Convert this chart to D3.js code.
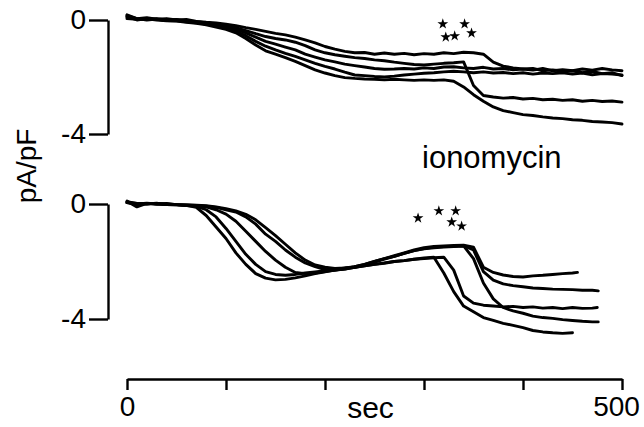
<!DOCTYPE html>
<html><head><meta charset="utf-8">
<script src="https://cdn.jsdelivr.net/npm/d3@7"></script>
<style>html,body{margin:0;padding:0;background:#fff;} svg{display:block;}</style>
</head><body><svg id="chart" width="644" height="427"></svg>
<script>
// ---------- data (pA/pF, sampled every 10 s; last value of a trace sits at its end time) ----------
const sampleStep = 10;
const xTickValues = [0, 100, 200, 300, 400, 500];
const xTickLabels = {0: "0", 500: "500"};
const yTickValues = [0, -4];

// top panel: 5 cells, 0 to 500 s
const topEnd = [500, 500, 500, 500, 500];
const topA = [0.15,0.05,0.08,0.03,0.05,0.0,0.02,-0.05,-0.08,-0.1,-0.15,-0.2,-0.27,-0.33,-0.4,-0.47,-0.52,-0.6,-0.7,-0.8,-0.93,-1.02,-1.1,-1.15,-1.14,-1.2,-1.16,-1.2,-1.17,-1.22,-1.18,-1.2,-1.15,-1.18,-1.13,-1.15,-1.2,-1.48,-1.62,-1.68,-1.72,-1.7,-1.78,-1.75,-1.8,-1.78,-1.85,-1.8,-1.88,-1.85,-1.95];
const topB = [0.1,0.05,0.02,0.05,0.0,0.02,-0.03,-0.05,-0.1,-0.15,-0.2,-0.27,-0.37,-0.48,-0.58,-0.65,-0.7,-0.78,-0.9,-1.05,-1.15,-1.22,-1.27,-1.32,-1.35,-1.4,-1.43,-1.48,-1.52,-1.56,-1.58,-1.55,-1.52,-1.5,-1.47,-2.3,-2.65,-2.7,-2.74,-2.72,-2.77,-2.75,-2.8,-2.78,-2.82,-2.8,-2.85,-2.82,-2.86,-2.84,-2.88];
const topC = [0.12,0.0,0.05,0.02,-0.02,0.0,-0.05,-0.08,-0.12,-0.18,-0.25,-0.33,-0.45,-0.6,-0.75,-0.85,-0.95,-1.05,-1.2,-1.3,-1.4,-1.47,-1.55,-1.6,-1.65,-1.7,-1.73,-1.72,-1.7,-1.72,-1.68,-1.7,-1.65,-1.64,-1.68,-1.7,-1.66,-1.72,-1.7,-1.75,-1.72,-1.76,-1.7,-1.78,-1.74,-1.78,-1.72,-1.76,-1.7,-1.75,-1.78];
const topD = [0.18,0.05,0.0,0.03,-0.02,-0.03,-0.06,-0.1,-0.14,-0.2,-0.3,-0.4,-0.55,-0.75,-0.92,-1.05,-1.17,-1.28,-1.4,-1.52,-1.63,-1.72,-1.83,-1.93,-1.95,-1.98,-2.0,-1.97,-1.93,-1.9,-1.87,-1.85,-1.82,-1.8,-1.82,-1.85,-1.82,-1.86,-1.84,-1.88,-1.85,-1.9,-1.86,-1.88,-1.85,-1.9,-1.86,-1.92,-1.88,-1.9,-1.93];
const topE = [0.05,0.02,0.04,0.0,-0.03,-0.04,-0.08,-0.12,-0.17,-0.25,-0.33,-0.45,-0.65,-0.88,-1.08,-1.2,-1.32,-1.45,-1.6,-1.75,-1.86,-1.95,-2.02,-2.05,-2.07,-2.08,-2.1,-2.08,-2.1,-2.12,-2.1,-2.12,-2.1,-2.15,-2.35,-2.62,-2.85,-3.05,-3.18,-3.25,-3.32,-3.35,-3.4,-3.44,-3.46,-3.5,-3.52,-3.56,-3.58,-3.6,-3.65];

// bottom panel: 5 cells, traces end between 450 and 476 s
const bottomEnd = [450, 475, 476, 476, 455];
const botP1 = [0.1,-0.1,0.02,0.0,-0.02,-0.03,-0.05,-0.12,-0.4,-0.8,-1.2,-1.7,-2.1,-2.42,-2.58,-2.64,-2.62,-2.57,-2.5,-2.42,-2.36,-2.3,-2.26,-2.2,-2.15,-2.1,-2.05,-2.0,-1.97,-1.92,-1.88,-1.85,-2.4,-3.05,-3.55,-3.75,-3.95,-4.05,-4.15,-4.22,-4.3,-4.4,-4.45,-4.48,-4.5,-4.48];
const botP2 = [0.05,0.02,0.0,0.03,-0.02,-0.03,-0.05,-0.08,-0.2,-0.45,-0.85,-1.3,-1.75,-2.1,-2.35,-2.45,-2.48,-2.45,-2.4,-2.36,-2.32,-2.28,-2.22,-2.2,-2.15,-2.1,-2.06,-2.0,-1.97,-1.92,-1.9,-1.87,-1.85,-2.3,-3.2,-3.45,-3.52,-3.55,-3.58,-3.56,-3.6,-3.58,-3.62,-3.6,-3.64,-3.6,-3.63,-3.62,-3.6];
const botP3 = [0.05,0.0,0.03,0.0,-0.02,-0.02,-0.04,-0.06,-0.1,-0.2,-0.35,-0.6,-0.95,-1.3,-1.65,-1.95,-2.2,-2.38,-2.42,-2.4,-2.35,-2.3,-2.25,-2.18,-2.1,-2.0,-1.9,-1.82,-1.72,-1.62,-1.56,-1.52,-1.5,-1.48,-1.46,-1.9,-2.75,-3.3,-3.6,-3.72,-3.8,-3.9,-3.95,-3.98,-4.02,-4.05,-4.08,-4.1,-4.1];
const botP4 = [0.08,0.02,0.0,0.02,0.0,-0.02,-0.03,-0.05,-0.08,-0.12,-0.2,-0.28,-0.45,-0.7,-1.05,-1.3,-1.6,-1.85,-2.05,-2.18,-2.28,-2.3,-2.26,-2.2,-2.12,-2.02,-1.92,-1.82,-1.72,-1.62,-1.55,-1.5,-1.48,-1.47,-1.45,-1.6,-2.35,-2.65,-2.78,-2.84,-2.88,-2.92,-2.94,-2.96,-2.97,-2.98,-3.0,-3.0,-3.02];
const botP5 = [0.05,0.0,0.02,0.0,0.02,-0.02,-0.03,-0.04,-0.06,-0.1,-0.16,-0.24,-0.36,-0.55,-0.82,-1.1,-1.4,-1.7,-1.95,-2.12,-2.2,-2.24,-2.22,-2.18,-2.1,-2.0,-1.9,-1.8,-1.7,-1.6,-1.52,-1.48,-1.46,-1.44,-1.43,-1.5,-2.2,-2.38,-2.47,-2.52,-2.54,-2.5,-2.48,-2.45,-2.42,-2.4,-2.38];

// ionomycin application marks (s, pA/pF)
const topStarT = [319, 341, 322, 331, 348];
const topStarV = [-0.14, -0.14, -0.6, -0.56, -0.46];
const botStarT = [294, 315, 332, 328, 338];
const botStarV = [-0.49, -0.24, -0.24, -0.63, -0.77];

// ---------- drawing ----------
const svg = d3.select("#chart");
const FONT = "Liberation Sans, Arial, Helvetica, sans-serif";

const x = d3.scaleLinear().domain([0, 500]).range([127, 622]);
const yTop = d3.scaleLinear().domain([-4, 0]).range([134, 20]);
const yBot = d3.scaleLinear().domain([-4, 0]).range([319, 204]);

function toPoints(vals, endT) {
  return vals.map((v, i) => [i < vals.length - 1 ? i * sampleStep : endT, v]);
}

function drawPanel(series, ends, y, starT, starV) {
  const ln = d3.line().x(d => x(d[0])).y(d => y(d[1]));
  svg.append("g").selectAll("path").data(series.map((s, i) => toPoints(s, ends[i])))
    .join("path")
    .attr("d", ln)
    .attr("fill", "none")
    .attr("stroke", "#000")
    .attr("stroke-width", 2.9)
    .attr("stroke-linejoin", "round")
    .attr("stroke-linecap", "round");

  svg.append("g").selectAll("path").data(starT.map((t, i) => [t, starV[i]]))
    .join("path")
    .attr("d", d3.symbol(d3.symbolStar, 36))
    .attr("transform", d => `translate(${x(d[0])},${y(d[1])})`)
    .attr("fill", "#000");

  const ax = svg.append("g").attr("transform", "translate(108,0)")
    .call(d3.axisLeft(y).tickValues(yTickValues).tickSize(19).tickSizeOuter(0)
      .tickPadding(3).tickFormat(d => String(d)));
  ax.attr("font-family", FONT).attr("font-size", 28);
  ax.select(".domain").attr("stroke", "#000").attr("stroke-width", 2.4);
  ax.selectAll(".tick line").attr("stroke", "#000").attr("stroke-width", 2.4);
  ax.selectAll(".tick text").attr("fill", "#000");
}

drawPanel([topA, topB, topC, topD, topE], topEnd, yTop, topStarT, topStarV);
drawPanel([botP1, botP2, botP3, botP4, botP5], bottomEnd, yBot, botStarT, botStarV);

// x axis
const xa = svg.append("g").attr("transform", "translate(0,379)")
  .call(d3.axisBottom(x).tickValues(xTickValues).tickSize(11).tickSizeOuter(0)
    .tickPadding(6).tickFormat(d => xTickLabels[d] || ""));
xa.attr("font-family", FONT).attr("font-size", 28);
xa.select(".domain").attr("stroke", "#000").attr("stroke-width", 2.4);
xa.selectAll(".tick line").attr("stroke", "#000").attr("stroke-width", 2.4);
xa.selectAll(".tick text").attr("fill", "#000").attr("dx", d => d === 500 ? -6 : 0);

svg.append("text").attr("x", x(246)).attr("y", 418)
  .attr("text-anchor", "middle").attr("font-family", FONT).attr("font-size", 30)
  .text("sec");

svg.append("text").attr("transform", "translate(36,166) rotate(-90)")
  .attr("text-anchor", "middle").attr("font-family", FONT).attr("font-size", 28)
  .text("pA/pF");

svg.append("text").attr("x", 422).attr("y", 168)
  .attr("font-family", FONT).attr("font-size", 31)
  .text("ionomycin");
</script></body></html>
